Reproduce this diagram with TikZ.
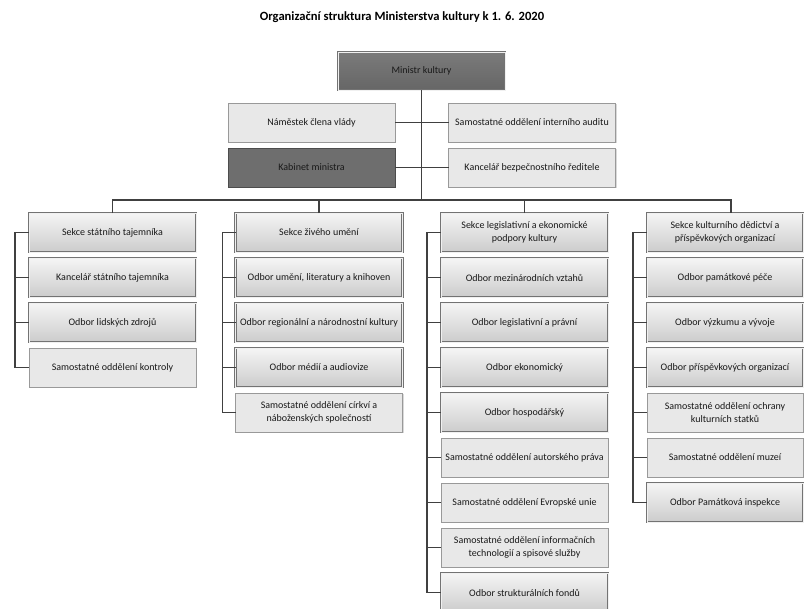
\documentclass[tikz,border=0pt]{standalone}
\usepackage{fontspec}
\setmainfont{Carlito}
\usepackage{tikz}
\usetikzlibrary{positioning}
\usetikzlibrary{shadows}
\usetikzlibrary{calc}
\tikzset{
    unit/.style={draw=black!40, fill=black!9, minimum width=167pt, minimum height=39pt,
        inner sep=2pt, outer sep=0pt, align=center, text=black!90, font=\fontsize{10}{12.5}\selectfont,
        drop shadow={opacity=0.3, shadow xshift=1.2pt, shadow yshift=-1.2pt}},
    odbor/.style={unit, draw=black!55, line width=0.8pt, double=black!6, double distance=1pt,
        top color=black!4, bottom color=black!20},
    dark/.style={unit, draw=black!70, fill=black!57},
    conn/.style={draw=black!75, line width=1.2pt},
}
\begin{document}
\begin{tikzpicture}[x=1pt,y=-1pt]
	\useasboundingbox (0,0) rectangle (805,608);
	\node[font=\bfseries\fontsize{12.6}{14}\selectfont] (title) at (402,17) {Organizační struktura Ministerstva kultury k 1. 6. 2020};
	% vedeni ministerstva
	\node[odbor, top color=black!52, bottom color=black!60, minimum height=38pt] (ministr) at (421.5,71) {Ministr kultury};
	\node[unit] (namestek) at (311.5,122.5) {Náměstek člena vlády};
	\node[unit] (audit) at (532,122.5) {Samostatné oddělení interního auditu};
	\node[dark] (kabinet) at (311.5,167.5) {Kabinet ministra};
	\node[unit] (bezpec) at (532,167.5) {Kancelář bezpečnostního ředitele};
	% sekce statniho tajemnika
	\node[odbor] (st1) at (112.5,232.5) {Sekce státního tajemníka};
	\node[odbor, below=6pt of st1] (st2) {Kancelář státního tajemníka};
	\node[odbor, below=6pt of st2] (st3) {Odbor lidských zdrojů};
	\node[unit, below=6pt of st3] (st4) {Samostatné oddělení kontroly};
	% sekce ziveho umeni
	\node[odbor] (zu1) at (319,232.5) {Sekce živého umění};
	\node[odbor, below=6pt of zu1] (zu2) {Odbor umění, literatury a knihoven};
	\node[odbor, below=6pt of zu2] (zu3) {Odbor regionální a národnostní kultury};
	\node[odbor, below=6pt of zu3] (zu4) {Odbor médií a audiovize};
	\node[unit, below=6pt of zu4] (zu5) {Samostatné oddělení církví a\\náboženských společností};
	% sekce legislativni a ekonomicke podpory
	\node[odbor] (le1) at (524.5,232.5) {Sekce legislativní a ekonomické\\podpory kultury};
	\node[odbor, below=6pt of le1] (le2) {Odbor mezinárodních vztahů};
	\node[odbor, below=6pt of le2] (le3) {Odbor legislativní a právní};
	\node[odbor, below=6pt of le3] (le4) {Odbor ekonomický};
	\node[odbor, below=6pt of le4] (le5) {Odbor hospodářský};
	\node[unit, below=6pt of le5] (le6) {Samostatné oddělení autorského práva};
	\node[unit, below=6pt of le6] (le7) {Samostatné oddělení Evropské unie};
	\node[unit, below=6pt of le7] (le8) {Samostatné oddělení informačních\\technologií a spisové služby};
	\node[odbor, below=6pt of le8] (le9) {Odbor strukturálních fondů};
	% sekce kulturniho dedictvi
	\node[odbor, minimum width=156pt] (kd1) at (725,232.5) {Sekce kulturního dědictví a\\příspěvkových organizací};
	\node[odbor, minimum width=156pt, below=6pt of kd1] (kd2) {Odbor památkové péče};
	\node[odbor, minimum width=156pt, below=6pt of kd2] (kd3) {Odbor výzkumu a vývoje};
	\node[odbor, minimum width=156pt, below=6pt of kd3] (kd4) {Odbor příspěvkových organizací};
	\node[unit, minimum width=156pt, below=6pt of kd4] (kd5) {Samostatné oddělení ochrany\\kulturních statků};
	\node[unit, minimum width=156pt, below=6pt of kd5] (kd6) {Samostatné oddělení muzeí};
	\node[odbor, minimum width=156pt, below=6pt of kd6] (kd7) {Odbor Památková inspekce};
	% spojnice
	\coordinate (bus) at (421.5,200);
	\coordinate (b4) at (731,200);
	\draw[conn] (ministr) -- (bus);
	\draw[conn] (namestek) -- (audit);
	\draw[conn] (kabinet) -- (bezpec);
	\draw[conn] (st1.north) |- (b4) -- (b4 |- kd1.north);
	\draw[conn] (zu1.north) -- (zu1.north |- bus);
	\draw[conn] (le1.north) -- (le1.north |- bus);
	\draw[conn] (st1.west) -- ++(-14,0) |- (st4.west);
	\draw[conn] (zu1.west) -- ++(-13,0) |- (zu5.west);
	\draw[conn] (le1.west) -- ++(-14,0) |- (le9.west);
	\draw[conn] (kd1.west) -- ++(-14,0) |- (kd7.west);
	\foreach \n in {st2,st3,zu2,zu3,zu4,le2,le3,le4,le5,le6,le7,le8,kd2,kd3,kd4,kd5,kd6}
		\draw[conn] (\n.west) -- ++(-14,0);
\end{tikzpicture}
\end{document}
